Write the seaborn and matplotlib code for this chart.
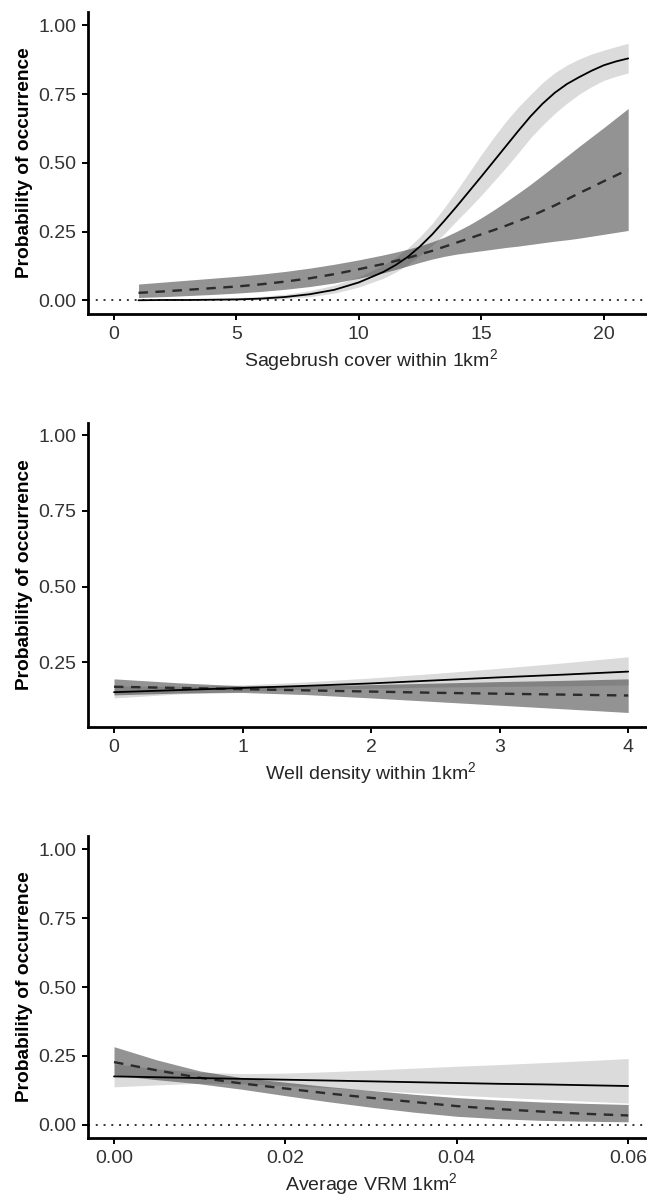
import numpy as np
import pandas as pd
import matplotlib
matplotlib.use("Agg")
import matplotlib.pyplot as plt
from matplotlib.ticker import FormatStrFormatter
import seaborn as sns

# ---------------- data ----------------
# Panel 1: sagebrush cover
sage_x = [1, 2, 3, 4, 5, 6, 7, 8, 9, 10, 11, 11.5, 12, 12.5, 13, 13.5, 14, 14.5, 15, 15.5,
          16, 16.5, 17, 17.5, 18, 18.5, 19, 19.5, 20, 20.5, 21]
sage_solid = [0.000, 0.001, 0.001, 0.002, 0.003, 0.006, 0.012, 0.022, 0.038, 0.065, 0.103, 0.128,
              0.158, 0.196, 0.240, 0.290, 0.342, 0.396, 0.450, 0.505, 0.560, 0.615, 0.668, 0.715,
              0.755, 0.787, 0.812, 0.835, 0.855, 0.869, 0.880]
sage_solid_hi = [0.002, 0.003, 0.004, 0.006, 0.009, 0.014, 0.022, 0.035, 0.055, 0.085, 0.128, 0.156,
                 0.190, 0.232, 0.280, 0.338, 0.400, 0.465, 0.530, 0.592, 0.650, 0.702, 0.748, 0.792,
                 0.828, 0.856, 0.878, 0.896, 0.910, 0.923, 0.935]
sage_solid_lo = [0.000, 0.000, 0.000, 0.001, 0.001, 0.002, 0.006, 0.013, 0.026, 0.048, 0.080, 0.102,
                 0.130, 0.163, 0.200, 0.243, 0.290, 0.335, 0.382, 0.432, 0.482, 0.535, 0.590, 0.637,
                 0.680, 0.717, 0.750, 0.777, 0.800, 0.815, 0.827]
sage_dash = [0.027, 0.032, 0.038, 0.044, 0.050, 0.058, 0.068, 0.080, 0.095, 0.113, 0.132, 0.143,
             0.154, 0.167, 0.180, 0.195, 0.210, 0.225, 0.240, 0.255, 0.271, 0.288, 0.305, 0.325,
             0.345, 0.367, 0.390, 0.411, 0.433, 0.454, 0.476]
sage_dash_hi = [0.059, 0.066, 0.073, 0.080, 0.087, 0.095, 0.105, 0.117, 0.131, 0.147, 0.165, 0.175,
                0.186, 0.198, 0.213, 0.230, 0.251, 0.274, 0.300, 0.328, 0.358, 0.389, 0.421, 0.455,
                0.490, 0.525, 0.560, 0.594, 0.628, 0.663, 0.698]
sage_dash_lo = [0.010, 0.013, 0.017, 0.021, 0.026, 0.032, 0.040, 0.050, 0.063, 0.080, 0.100, 0.112,
                0.125, 0.138, 0.150, 0.160, 0.168, 0.174, 0.180, 0.186, 0.192, 0.197, 0.203, 0.209,
                0.215, 0.220, 0.226, 0.233, 0.240, 0.247, 0.254]

# Panel 2: well density
well_x = [0, 0.5, 1, 1.5, 2, 2.5, 3, 3.5, 4]
well_solid = [0.151, 0.158, 0.165, 0.172, 0.180, 0.190, 0.200, 0.209, 0.219]
well_solid_hi = [0.172, 0.170, 0.175, 0.185, 0.198, 0.213, 0.230, 0.248, 0.268]
well_solid_lo = [0.132, 0.145, 0.155, 0.160, 0.164, 0.168, 0.170, 0.172, 0.175]
well_dash = [0.169, 0.165, 0.161, 0.157, 0.153, 0.149, 0.146, 0.143, 0.140]
well_dash_hi = [0.195, 0.182, 0.172, 0.172, 0.176, 0.181, 0.186, 0.190, 0.195]
well_dash_lo = [0.142, 0.148, 0.150, 0.143, 0.132, 0.120, 0.108, 0.096, 0.084]

# Panel 3: average VRM
vrm_x = [0.000, 0.005, 0.010, 0.015, 0.020, 0.025, 0.030, 0.035, 0.040, 0.045, 0.050, 0.055, 0.060]
vrm_solid = [0.175, 0.172, 0.169, 0.166, 0.163, 0.160, 0.157, 0.154, 0.151, 0.148, 0.146, 0.143, 0.140]
vrm_solid_hi = [0.221, 0.203, 0.190, 0.185, 0.187, 0.192, 0.198, 0.205, 0.212, 0.218, 0.225, 0.232, 0.240]
vrm_solid_lo = [0.137, 0.144, 0.150, 0.148, 0.142, 0.134, 0.125, 0.116, 0.107, 0.099, 0.092, 0.085, 0.078]
vrm_dash = [0.227, 0.197, 0.170, 0.149, 0.131, 0.113, 0.097, 0.082, 0.067, 0.056, 0.047, 0.039, 0.033]
vrm_dash_hi = [0.283, 0.235, 0.195, 0.170, 0.154, 0.138, 0.124, 0.110, 0.098, 0.089, 0.082, 0.077, 0.073]
vrm_dash_lo = [0.180, 0.163, 0.148, 0.128, 0.105, 0.083, 0.063, 0.045, 0.030, 0.021, 0.015, 0.012, 0.010]

y_label = "Probability of occurrence"
x_labels = ["Sagebrush cover within 1km$^{2}$",
            "Well density within 1km$^{2}$",
            "Average VRM 1km$^{2}$"]
x_ticks = [[0, 5, 10, 15, 20], [0, 1, 2, 3, 4], [0.00, 0.02, 0.04, 0.06]]
y_ticks = [[0, 0.25, 0.5, 0.75, 1.0], [0.25, 0.5, 0.75, 1.0], [0, 0.25, 0.5, 0.75, 1.0]]

# ---------------- style ----------------
sns.set_theme(style="ticks")
plt.rcParams["font.family"] = ["Liberation Sans", "DejaVu Sans"]
plt.rcParams["mathtext.default"] = "regular"

W, H = 647, 1199
fig = plt.figure(figsize=(W / 100, H / 100), dpi=100)
fig.patch.set_facecolor("white")

# axes boxes in pixels: left, right, top, bottom
boxes = [(88.3, 653.9, 11.7, 314.0),
         (88.3, 653.9, 422.7, 726.7),
         (88.3, 653.9, 835.7, 1138.3)]
xlims = [(-1.05, 22.05), (-0.2, 4.2), (-0.003, 0.063)]
ylims = [(-0.05, 1.05), (0.037, 1.041), (-0.05, 1.05)]
x_fmt = ["%d", "%d", "%.2f"]

panels = [
    (sage_x, sage_solid, sage_solid_lo, sage_solid_hi, sage_dash, sage_dash_lo, sage_dash_hi),
    (well_x, well_solid, well_solid_lo, well_solid_hi, well_dash, well_dash_lo, well_dash_hi),
    (vrm_x, vrm_solid, vrm_solid_lo, vrm_solid_hi, vrm_dash, vrm_dash_lo, vrm_dash_hi),
]

light_fill = "#999999"
dark_fill = "#3a3a3a"

for i, (px, ps, psl, psh, pd_, pdl, pdh) in enumerate(panels):
    l, r, t, b = boxes[i]
    ax = fig.add_axes([l / W, 1 - b / H, (r - l) / W, (b - t) / H])
    ax.set_facecolor("white")
    df = pd.DataFrame({"x": px, "solid": ps, "slo": psl, "shi": psh,
                       "dash": pd_, "dlo": pdl, "dhi": pdh})

    ax.fill_between(df["x"], df["slo"], df["shi"], color=light_fill, alpha=0.35, lw=0)
    ax.fill_between(df["x"], df["dlo"], df["dhi"], color=dark_fill, alpha=0.55, lw=0)

    ax.axhline(0, color="#333333", lw=1.4, linestyle=(0, (1, 3.0)), zorder=1)

    sns.lineplot(data=df, x="x", y="dash", ax=ax, color="#2b2b2b", linewidth=1.7,
                 linestyle=(0, (4.0, 3.2)), errorbar=None, zorder=3)
    sns.lineplot(data=df, x="x", y="solid", ax=ax, color="black", linewidth=1.3,
                 errorbar=None, zorder=4)

    ax.set_xlim(*xlims[i])
    ax.set_ylim(*ylims[i])
    ax.set_xticks(x_ticks[i])
    ax.set_yticks(y_ticks[i])
    ax.xaxis.set_major_formatter(FormatStrFormatter(x_fmt[i]))
    ax.yaxis.set_major_formatter(FormatStrFormatter("%.2f"))

    for side in ["top", "right"]:
        ax.spines[side].set_visible(False)
    for side in ["left", "bottom"]:
        ax.spines[side].set_linewidth(2.0)
        ax.spines[side].set_color("black")
    ax.tick_params(axis="both", direction="out", length=4.5, width=1.4, color="black",
                   labelsize=14, labelcolor="#333333", pad=4)

    ax.set_ylabel(y_label, fontsize=13.8, fontweight="bold", color="black", labelpad=4)
    ax.set_xlabel(x_labels[i], fontsize=14, color="#262626", labelpad=3)
    ax.grid(False)

fig.savefig("out.png", dpi=100, facecolor="white")
